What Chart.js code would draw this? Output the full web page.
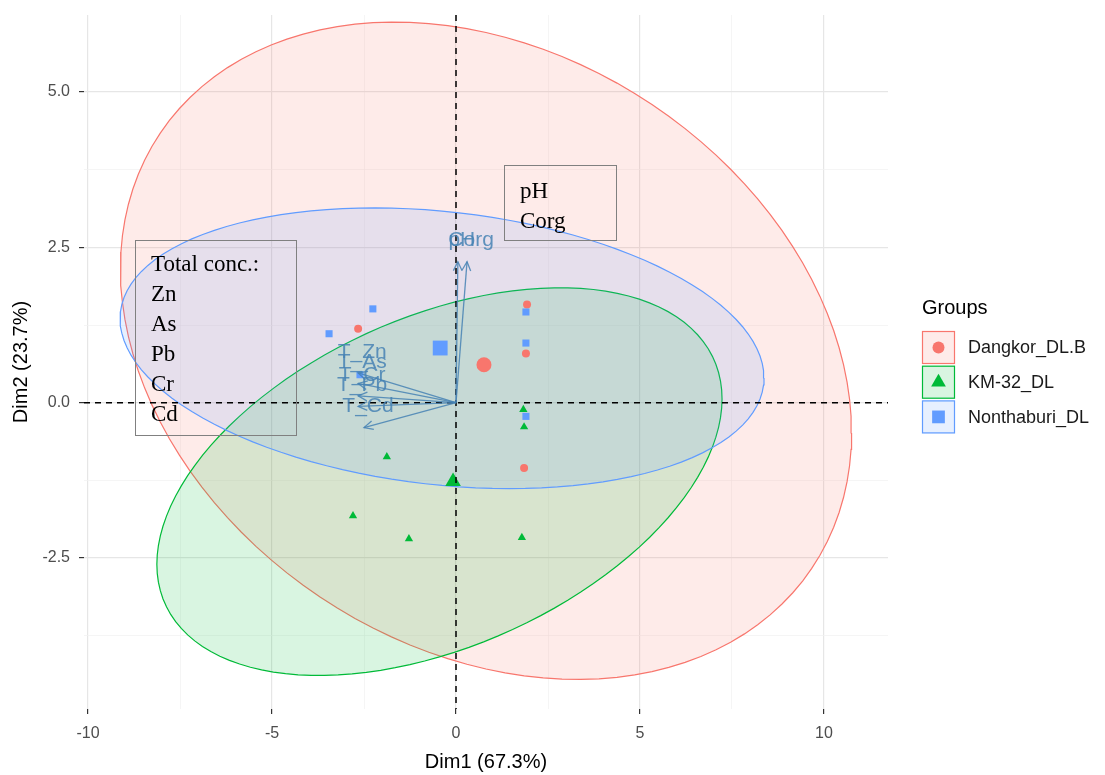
<!DOCTYPE html>
<html><head><meta charset="utf-8">
<script src="https://cdn.jsdelivr.net/npm/chart.js@4.4.1/dist/chart.umd.min.js"></script>
<style>
html,body{margin:0;padding:0;background:#fff;}
#wrap{position:relative;width:1105px;height:775px;overflow:hidden;background:#fff;}
canvas{position:absolute;left:0;top:0;}
.box{position:absolute;border:1px solid #808080;font-family:"Liberation Serif","Times New Roman",serif;color:#000;box-sizing:border-box;font-size:23px;line-height:30px;}
</style></head><body>
<div id="wrap"><canvas id="c" width="1105" height="775"></canvas>
<div class="box" id="boxMetals" style="left:135px;top:240px;width:162px;height:196px;padding:8px 0 0 15px;">Total conc.:<br>Zn<br>As<br>Pb<br>Cr<br>Cd</div>
<div class="box" id="boxSoil" style="left:504px;top:165px;width:113px;height:76px;padding:10px 0 0 15px;">pH<br>Corg</div>
</div>
<script>
// ---- data ----
const groupNames = ['Dangkor_DL.B', 'KM-32_DL', 'Nonthaburi_DL'];
const groupColors = ['#F8766D', '#00BA38', '#619CFF'];
const groupShapes = ['circle', 'triangle', 'rect'];
const dangkorX = [-2.66, 1.93, 1.90, 1.85];
const dangkorY = [1.19, 1.58, 0.79, -1.05];
const km32X = [1.83, 1.85, -1.88, -2.80, -1.28, 1.79];
const km32Y = [-0.11, -0.39, -0.87, -1.82, -2.19, -2.17];
const nontX = [-2.26, -3.45, 1.90, 1.90, 1.90, -2.61];
const nontY = [1.51, 1.11, 1.46, 0.96, -0.22, 0.45];
const centroidX = [0.76, -0.08, -0.43];
const centroidY = [0.61, -1.27, 0.88];
// confidence ellipses: centre, half-extent in x and y, correlation
const ellCx = [0.815, -0.45, -0.38];
const ellCy = [0.836, -1.27, 0.876];
const ellSx = [9.935, 7.68, 8.75];
const ellSy = [5.29, 3.12, 2.259];
const ellRho = [-0.25, 0.4266, -0.211];
// variable arrows
const varNames = ['pH', 'Corg', 'T_Zn', 'T_As', 'T_Cr', 'T_Pb', 'T_Cd'];
const varX = [0.05, 0.30, -2.66, -2.66, -2.66, -2.66, -2.50];
const varY = [2.27, 2.27, 0.48, 0.31, 0.11, -0.06, -0.40];
// axes
const xTitle = 'Dim1 (67.3%)';
const yTitle = 'Dim2 (23.7%)';
const legendTitle = 'Groups';
const xMin = -10.11, xMax = 11.74, yMin = -4.93, yMax = 6.24;

const FONT = '"Liberation Sans", Arial, sans-serif';
function rgba(hex, a){
  const n = parseInt(hex.slice(1), 16);
  return `rgba(${(n>>16)&255},${(n>>8)&255},${n&255},${a})`;
}
function ellipsePoints(i){
  const pts = [];
  const N = 120;
  const s = Math.sqrt(1 - ellRho[i]*ellRho[i]);
  for (let k = 0; k <= N; k++){
    const t = 2*Math.PI*k/N;
    pts.push({x: ellCx[i] + ellSx[i]*Math.cos(t),
              y: ellCy[i] + ellSy[i]*(ellRho[i]*Math.cos(t) + s*Math.sin(t))});
  }
  return pts;
}
const zip = (xs, ys) => xs.map((x, k) => ({x, y: ys[k]}));
const groupX = [dangkorX, km32X, nontX];
const groupY = [dangkorY, km32Y, nontY];
const pointRadius = [4, 4.8, 5];
const centroidRadius = [7.5, 9, 10.5];

const datasets = [];
groupNames.forEach((g, i) => {
  datasets.push({
    label: g + ' ellipse', data: ellipsePoints(i), showLine: true, fill: 'shape',
    backgroundColor: rgba(groupColors[i], 0.15), borderColor: groupColors[i],
    borderWidth: 1.2, pointRadius: 0, tension: 0, order: 30 - i
  });
});
groupNames.forEach((g, i) => {
  datasets.push({
    label: g, data: zip(groupX[i], groupY[i]), showLine: false,
    pointStyle: groupShapes[i], pointRadius: pointRadius[i],
    backgroundColor: groupColors[i], borderColor: groupColors[i], borderWidth: 0,
    order: 10 - i
  });
});
groupNames.forEach((g, i) => {
  datasets.push({
    label: g + ' mean', data: [{x: centroidX[i], y: centroidY[i]}], showLine: false,
    pointStyle: groupShapes[i], pointRadius: centroidRadius[i],
    backgroundColor: groupColors[i], borderColor: groupColors[i], borderWidth: 0,
    order: 5 - i
  });
});

const overlayPlugin = {
  id: 'overlay',
  afterDatasetsDraw(chart){
    const {ctx, chartArea: a, scales: {x, y}} = chart;
    ctx.save();
    // dashed reference lines
    ctx.strokeStyle = '#000'; ctx.lineWidth = 1.5; ctx.setLineDash([6, 5]);
    const x0 = x.getPixelForValue(0), y0 = y.getPixelForValue(0);
    ctx.beginPath(); ctx.moveTo(a.left, y0); ctx.lineTo(a.right, y0); ctx.stroke();
    ctx.beginPath(); ctx.moveTo(x0, a.top); ctx.lineTo(x0, a.bottom); ctx.stroke();
    ctx.setLineDash([]);
    // variable arrows
    const col = 'rgba(70,130,180,0.85)';
    ctx.strokeStyle = col; ctx.lineWidth = 1.3;
    varNames.forEach((n, k) => {
      const px = x.getPixelForValue(varX[k]), py = y.getPixelForValue(varY[k]);
      ctx.beginPath(); ctx.moveTo(x0, y0); ctx.lineTo(px, py); ctx.stroke();
      const ang = Math.atan2(py - y0, px - x0);
      const L = 10, w = 0.45;
      ctx.beginPath();
      ctx.moveTo(px - L*Math.cos(ang - w), py - L*Math.sin(ang - w));
      ctx.lineTo(px, py);
      ctx.lineTo(px - L*Math.cos(ang + w), py - L*Math.sin(ang + w));
      ctx.stroke();
    });
    ctx.fillStyle = col; ctx.font = '21px ' + FONT;
    ctx.textAlign = 'center'; ctx.textBaseline = 'middle';
    varNames.forEach((n, k) => {
      const px = x.getPixelForValue(varX[k]), py = y.getPixelForValue(varY[k]);
      ctx.fillText(n, px + 4, py - 21);
    });
    ctx.restore();
  },
  afterDraw(chart){
    const ctx = chart.ctx;
    ctx.save();
    ctx.font = '20px ' + FONT; ctx.fillStyle = '#000';
    ctx.textAlign = 'left'; ctx.textBaseline = 'middle';
    ctx.fillText(legendTitle, 922, 308);
    groupNames.forEach((g, i) => {
      const top = 331 + i*34.7, left = 922, s = 33;
      ctx.fillStyle = '#fff'; ctx.fillRect(left, top, s, s);
      ctx.fillStyle = rgba(groupColors[i], 0.15); ctx.fillRect(left, top, s, s);
      ctx.strokeStyle = groupColors[i]; ctx.lineWidth = 1.2;
      ctx.strokeRect(left + 0.5, top + 0.5, s - 1, s - 1);
      ctx.fillStyle = groupColors[i]; ctx.strokeStyle = groupColors[i];
      Chart.helpers.drawPoint(ctx, {pointStyle: groupShapes[i], radius: [6, 8.5, 9][i], rotation: 0, borderWidth: 0}, left + s/2, top + s/2);
      ctx.fillStyle = '#1a1a1a'; ctx.font = '18px ' + FONT;
      ctx.fillText(g, 968, top + s/2 + 1);
    });
    ctx.restore();
  }
};

const isMult = (v, m) => Math.abs(v/m - Math.round(v/m)) < 1e-6;
const gridColor = (m) => (c) => (c.tick && isMult(c.tick.value, m)) ? '#e6e6e6' : '#f1f1f1';
const gridWidth = (m) => (c) => (c.tick && isMult(c.tick.value, m)) ? 1.2 : 0.7;
const tickCol = (m) => (c) => (c.tick && isMult(c.tick.value, m)) ? '#333333' : 'rgba(0,0,0,0)';

new Chart(document.getElementById('c'), {
  type: 'scatter',
  data: {datasets},
  options: {
    responsive: false, animation: false, devicePixelRatio: 1,
    layout: {padding: {left: 0, right: 217, top: 15, bottom: 0}},
    plugins: {legend: {display: false}, tooltip: {enabled: false}},
    scales: {
      x: {
        type: 'linear', min: xMin, max: xMax,
        afterFit: (s) => { s.height = 775 - 709; s.paddingLeft = 0; s.paddingRight = 0; },
        border: {display: false},
        grid: {color: gridColor(5), lineWidth: gridWidth(5), tickColor: tickCol(5), tickLength: 5, tickWidth: 1.2},
        ticks: {stepSize: 2.5, includeBounds: false, autoSkip: false, maxRotation: 0, padding: 10,
          color: '#4d4d4d', font: {size: 16, family: FONT},
          callback: (v) => isMult(v, 5) ? String(Math.round(v)) : ''},
        title: {display: true, text: xTitle, color: '#000', font: {size: 20, family: FONT}, padding: {top: 0, bottom: 1}}
      },
      y: {
        type: 'linear', min: yMin, max: yMax,
        afterFit: (s) => { s.width = 84; s.paddingTop = 0; s.paddingBottom = 0; },
        border: {display: false},
        grid: {color: gridColor(2.5), lineWidth: gridWidth(2.5), tickColor: tickCol(2.5), tickLength: 5, tickWidth: 1.2},
        ticks: {stepSize: 1.25, includeBounds: false, autoSkip: false, padding: 9,
          color: '#4d4d4d', font: {size: 16, family: FONT},
          callback: (v) => isMult(v, 2.5) ? v.toFixed(1) : ''},
        title: {display: true, text: yTitle, color: '#000', font: {size: 20, family: FONT}, padding: {top: 9, bottom: 0}}
      }
    }
  },
  plugins: [overlayPlugin]
});
</script>
</body></html>
